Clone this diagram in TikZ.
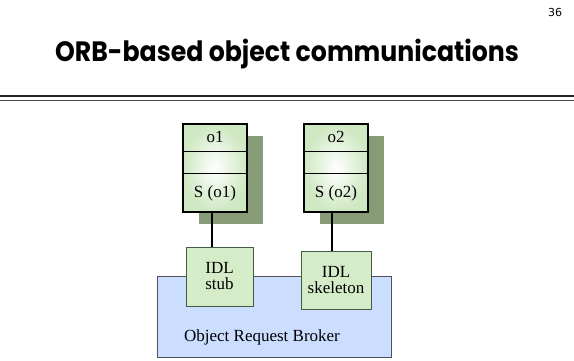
\documentclass[tikz,border=0pt]{standalone}
\usepackage{fontspec}
\setmainfont{Liberation Serif}
\newfontfamily\titlefont{Poppins}
\newfontfamily\pagefont{DejaVu Sans}
\usetikzlibrary{shadows}

\begin{document}
\begin{tikzpicture}[x=1pt, y=-1pt, every node/.style={font=\fontsize{17}{16}\selectfont}]
        \definecolor{objfill}{RGB}{206,232,194}
        \definecolor{shadowgreen}{RGB}{135,156,118}
        \definecolor{idlfill}{RGB}{212,236,200}
        \definecolor{idlline}{RGB}{70,90,70}
        \definecolor{orbfill}{RGB}{204,222,255}
        \definecolor{orbline}{RGB}{80,80,90}
        \tikzset{
          objbox/.style={draw=black, line width=1.6pt, minimum width=64pt, minimum height=88pt,
            inner sep=0pt, shading=radial, inner color=white, outer color=objfill,
            drop shadow={shadow xshift=16pt, shadow yshift=-12pt, fill=shadowgreen, opacity=1}},
          idlbox/.style={draw=idlline, fill=idlfill, inner sep=0pt, align=center},
          link/.style={line width=1.2pt}
        }
        \useasboundingbox (0,0) rectangle (574,361);
        \node[anchor=base, font=\pagefont\fontsize{11}{13}\selectfont] (page) at (555,17) {36};
        \node[anchor=base, font=\titlefont\bfseries\fontsize{28}{34}\selectfont] (title) at (287,62) {\scalebox{0.9}[1]{ORB-based object communications}};
        \draw[line width=2pt, black!85] (0,96.5) -- (574,96.5);
        \draw[line width=0.8pt, black!70] (0,100) -- (574,100);
        \node[draw=orbline, fill=orbfill, minimum width=234pt, minimum height=81pt] (orb) at (274,316.5) {};
        \node (orbname) at (262,337) {Object Request Broker};
        \node[idlbox, minimum width=67pt, minimum height=59pt] (stub) at (219.5,276.5) {IDL\\stub};
        \node[idlbox, minimum width=70pt, minimum height=58pt] (skel) at (336,280) {IDL\\skeleton};
        \foreach \obj/\cx in {o1/215, o2/336} {
          \node[objbox] (\obj) at (\cx,168) {};
          \draw[line width=1pt] ([yshift=-28pt]\obj.north west) -- ([yshift=-28pt]\obj.north east);
          \draw[line width=1pt] ([yshift=-50pt]\obj.north west) -- ([yshift=-50pt]\obj.north east);
          \node (\obj name) at ([yshift=-14pt]\obj.north) {\obj};
          \node (\obj serv) at ([yshift=19pt]\obj.south) {S (\obj)};
        }
        \draw[link] ([xshift=-3pt]o1.south) -- ([xshift=-3pt]o1.south |- stub.north);
        \draw[link] ([xshift=-4pt]o2.south) -- ([xshift=-4pt]o2.south |- skel.north);
      \end{tikzpicture}
\end{document}
